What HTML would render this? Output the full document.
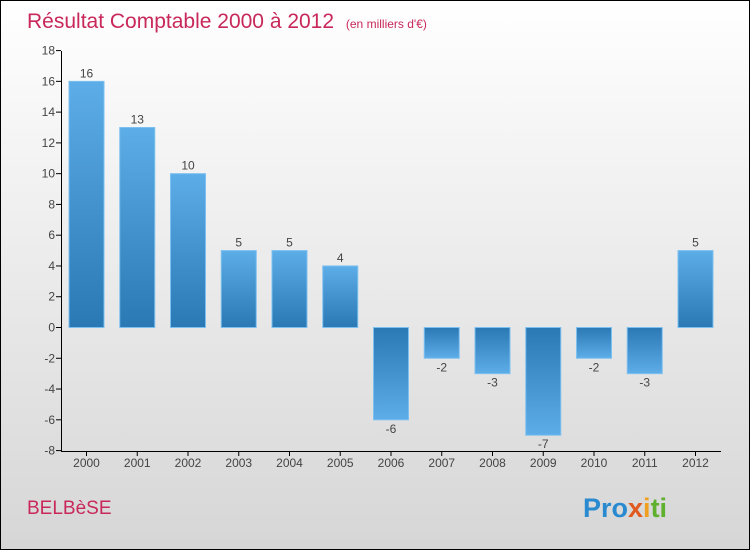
<!DOCTYPE html>
<html><head><meta charset="utf-8"><style>
body{margin:0}
#c{width:748px;height:548px;border:1px solid #000;background:linear-gradient(#fff,#d6d6d6);position:relative;font-family:"Liberation Sans",sans-serif}
</style></head><body>
<div id="c">
<svg width="748" height="548" id="s">
<defs>
<linearGradient id="gp" x1="0" y1="0" x2="0" y2="1"><stop offset="0" stop-color="#5dade8"/><stop offset="1" stop-color="#2a78b4"/></linearGradient>
<linearGradient id="gn" x1="0" y1="0" x2="0" y2="1"><stop offset="0" stop-color="#2a78b4"/><stop offset="1" stop-color="#5dade8"/></linearGradient>
</defs>
<text x="26" y="27" font-size="21" fill="#c8285a">Résultat Comptable 2000 à 2012 <tspan font-size="12" dx="6">(en milliers d'€)</tspan></text>
<text x="26" y="513" font-size="19" fill="#c8285a">BELBèSE</text>
<text x="582" y="516" font-size="27" font-weight="bold"><tspan fill="#2a8ad0">Pro</tspan><tspan fill="#e05a20">x</tspan><tspan fill="#f0a020">i</tspan><tspan fill="#60b030">ti</tspan></text>
<g id="g"></g>
</svg></div>
<script>
const years=["2000","2001","2002","2003","2004","2005","2006","2007","2008","2009","2010","2011","2012"];
const values=[16,13,10,5,5,4,-6,-2,-3,-7,-2,-3,5];
const yTicks=[-8,-6,-4,-2,0,2,4,6,8,10,12,14,16,18];
const NS="http://www.w3.org/2000/svg";
const g=document.getElementById('g');
const y=v=>326.5-v*(400/26);
const x=i=>85.5+i*50.75;
function mk(t,a,txt){const e=document.createElementNS(NS,t);for(const k in a)e.setAttribute(k,a[k]);if(txt!==undefined)e.textContent=txt;g.appendChild(e);return e;}
yTicks.forEach(t=>{
 const l=mk('line',{x1:55,x2:60,y1:y(t),y2:y(t),stroke:'#000'});
 
 
 const tx=mk('text',{x:54,y:y(t)+4,'text-anchor':'end','font-size':12,fill:'#444'},t);
 
 
});
values.forEach((v,i)=>{
 const top=Math.min(y(v),y(0)),h=Math.abs(y(v)-y(0));
 const r=mk('rect',{x:x(i)-17.5,y:top,width:35,height:h,fill:v>=0?'url(#gp)':'url(#gn)',stroke:'#7cc0f0','stroke-width':1});
 
 
 const lt=mk('text',{x:x(i),y:v>=0?y(v)-4:y(v)+13,'text-anchor':'middle','font-size':12,fill:'#444'},v);
 
 
 const tk=mk('line',{x1:x(i),x2:x(i),y1:450,y2:455,stroke:'#000'});
 
 
 const xl=mk('text',{x:x(i),y:466,'text-anchor':'middle','font-size':12,fill:'#444'},years[i]);
 
 
});
const ya=mk('line',{x1:60.5,x2:60.5,y1:50,y2:450.5,stroke:'#000'});


const xa=mk('line',{x1:60,x2:720,y1:450.5,y2:450.5,stroke:'#000'});


</script>
</body></html>
